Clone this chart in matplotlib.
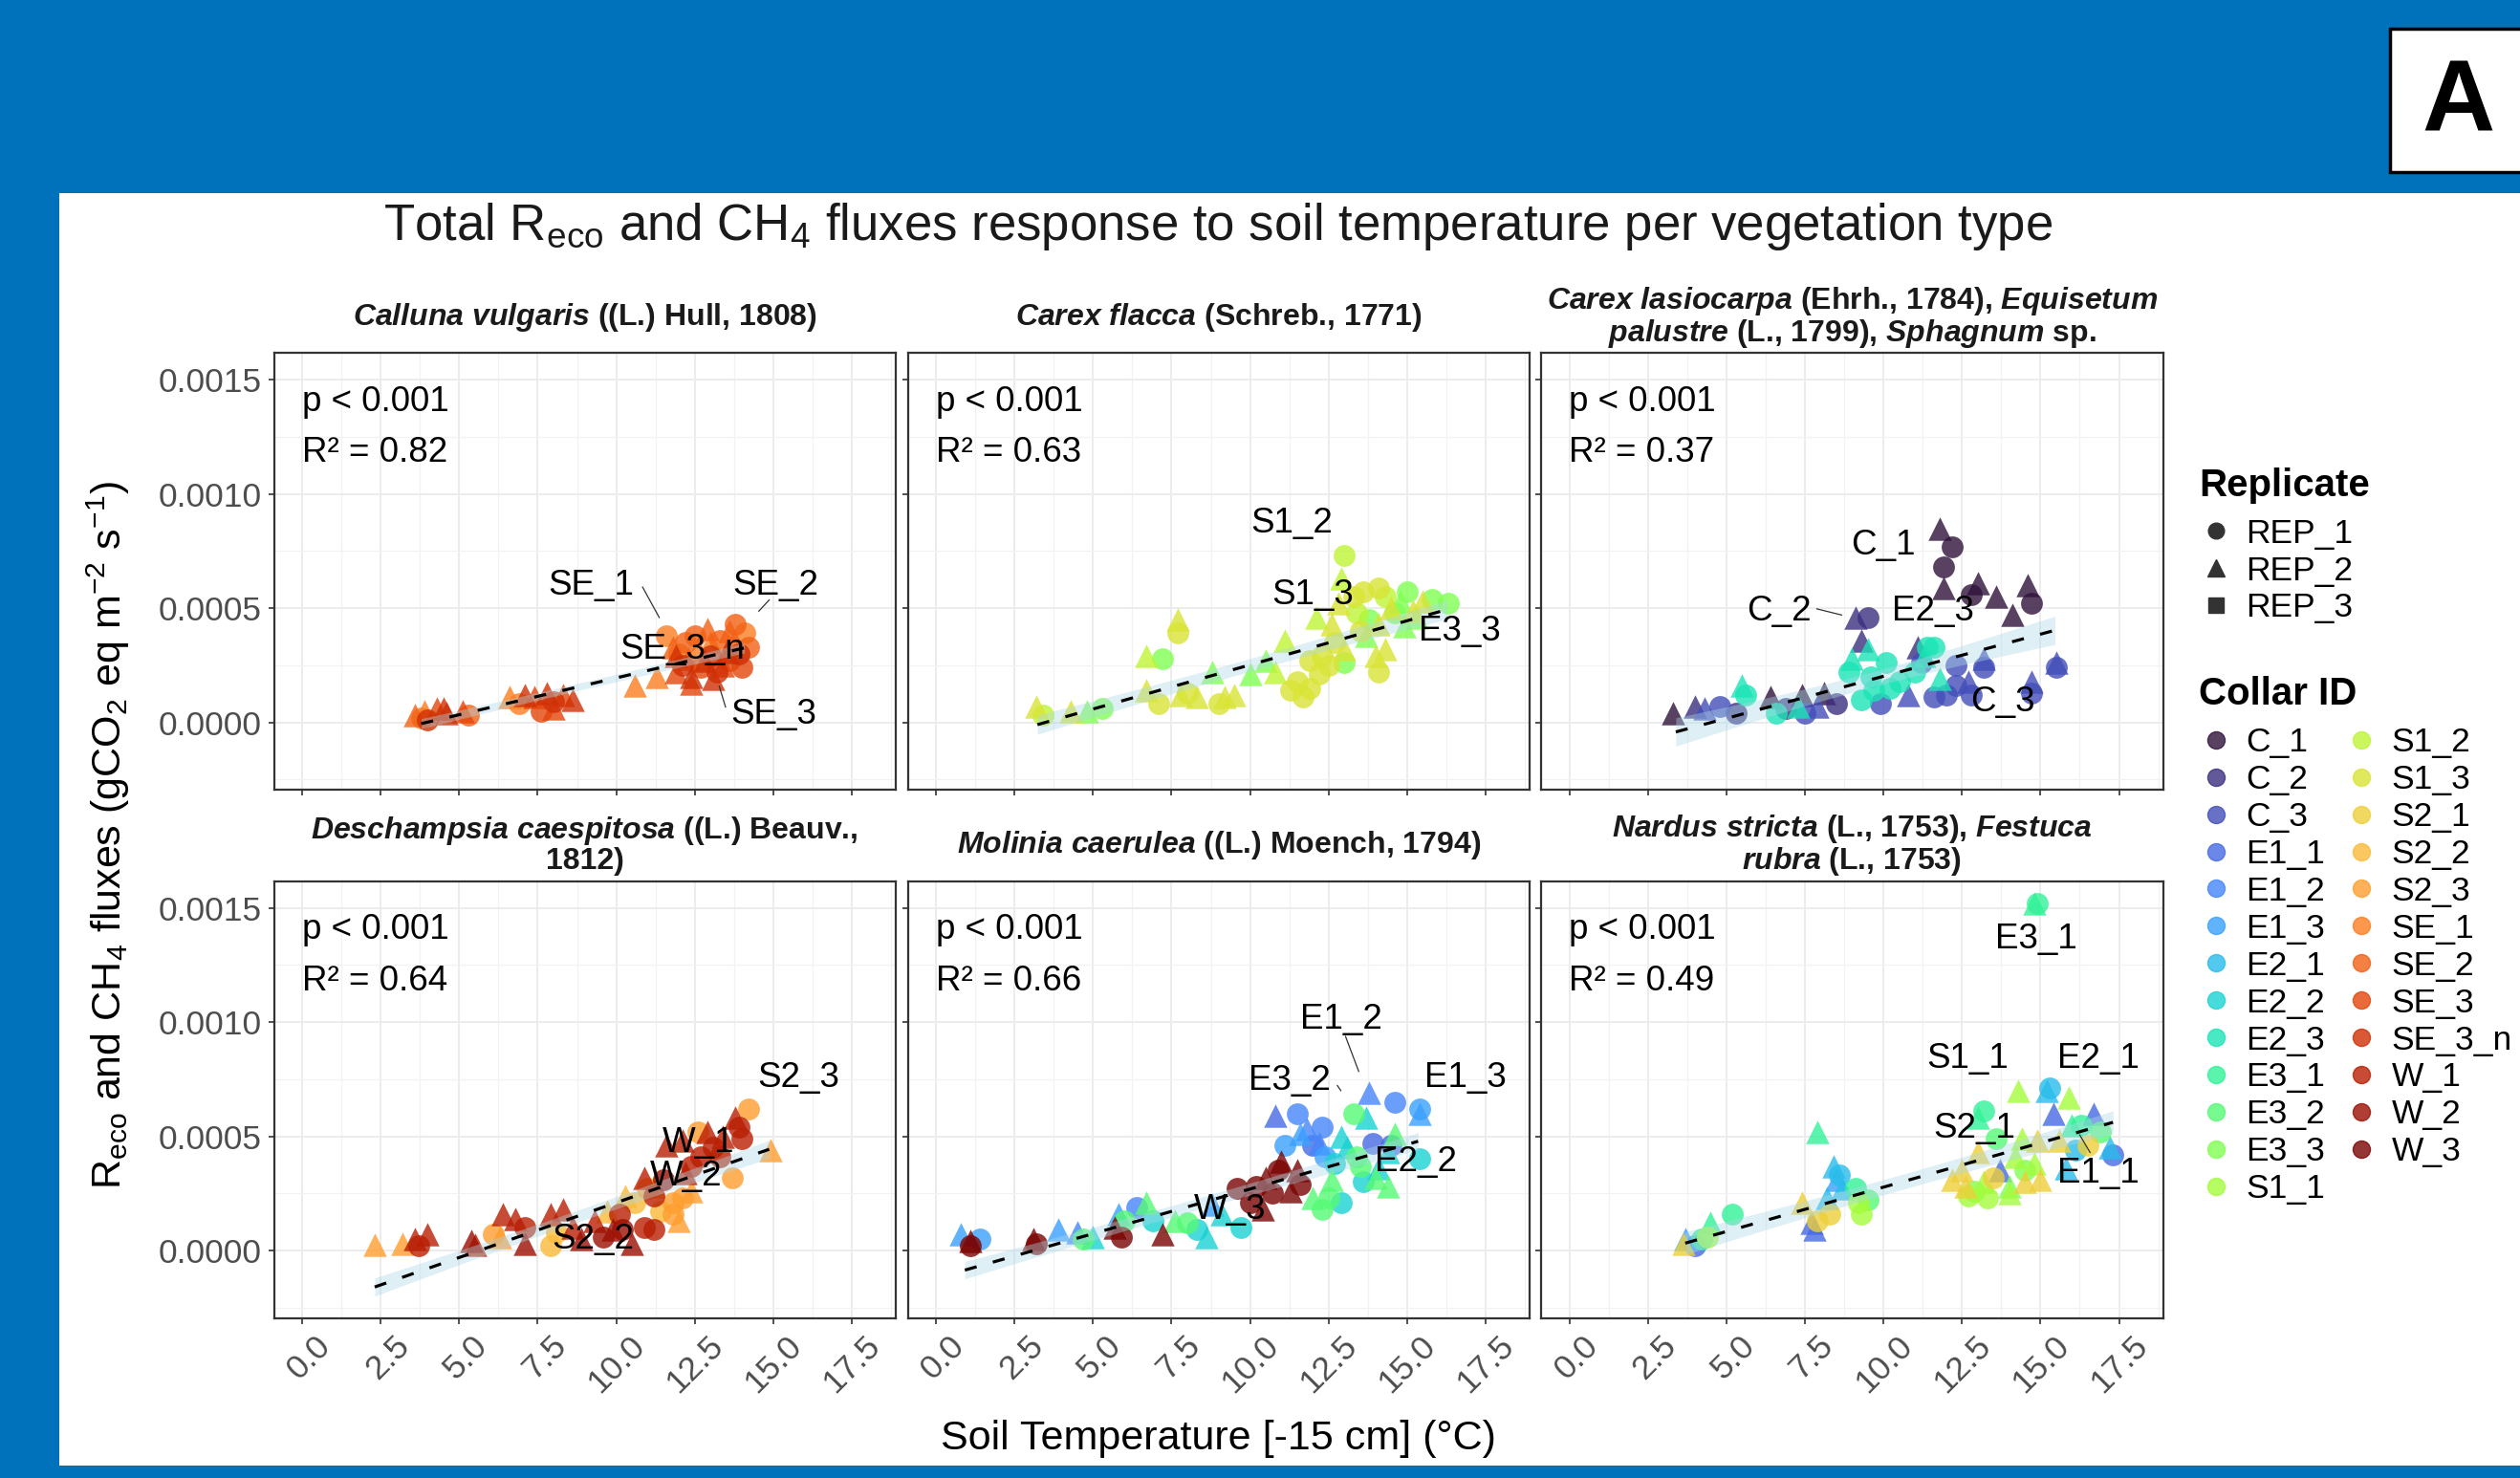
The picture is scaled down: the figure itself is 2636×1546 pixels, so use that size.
import numpy as np
import matplotlib
matplotlib.use("Agg")
import matplotlib.pyplot as plt
import matplotlib.transforms as mtransforms
from matplotlib.lines import Line2D
from matplotlib.patches import Rectangle

plt.rcParams['font.family'] = 'Liberation Sans'
plt.rcParams['mathtext.fontset'] = 'custom'
plt.rcParams['mathtext.rm'] = 'Liberation Sans'
plt.rcParams['mathtext.it'] = 'Liberation Sans:italic'
plt.rcParams['mathtext.bf'] = 'Liberation Sans:bold'
plt.rcParams['mathtext.bfit'] = 'Liberation Sans:italic:bold'
plt.rcParams['mathtext.default'] = 'regular'

W, H = 2636, 1546

collars = ['C_1', 'C_2', 'C_3', 'E1_1', 'E1_2', 'E1_3', 'E2_1', 'E2_2', 'E2_3',
           'E3_1', 'E3_2', 'E3_3', 'S1_1', 'S1_2', 'S1_3', 'S2_1', 'S2_2', 'S2_3',
           'SE_1', 'SE_2', 'SE_3', 'SE_3_n', 'W_1', 'W_2', 'W_3']
replicates = ['REP_1', 'REP_2', 'REP_3']
rep_marker = {1: 'o', 2: '^', 3: 's'}
rep_size = {1: 270, 2: 310, 3: 200}
cols = plt.cm.turbo(np.linspace(0, 1, len(collars)))
collar_color = dict(zip(collars, cols))

strip_titles = [
    r'$\mathbfit{Calluna\ vulgaris}$ ((L.) Hull, 1808)',
    r'$\mathbfit{Carex\ flacca}$ (Schreb., 1771)',
    r'$\mathbfit{Carex\ lasiocarpa}$ (Ehrh., 1784), $\mathbfit{Equisetum}$' + '\n' +
    r'$\mathbfit{palustre}$ (L., 1799), $\mathbfit{Sphagnum}$ sp.',
    r'$\mathbfit{Deschampsia\ caespitosa}$ ((L.) Beauv.,' + '\n' + '1812)',
    r'$\mathbfit{Molinia\ caerulea}$ ((L.) Moench, 1794)',
    r'$\mathbfit{Nardus\ stricta}$ (L., 1753), $\mathbfit{Festuca}$' + '\n' +
    r'$\mathbfit{rubra}$ (L., 1753)',
]
p_values = ['p < 0.001'] * 6
r2_values = ['0.82', '0.63', '0.37', '0.64', '0.66', '0.49']

# (collar, replicate, soil temperature, flux)
calluna = [
    ('SE_2', 2, 3.6, 0.00003), ('SE_1', 2, 3.9, 0.00005), ('SE_3', 2, 4.3, 0.00006),
    ('SE_3_n', 2, 4.6, 0.00004), ('SE_3', 2, 5.1, 0.00005), ('SE_2', 1, 5.3, 0.00003),
    ('SE_3_n', 1, 4.0, 0.00001), ('SE_1', 1, 3.8, 0.00002), ('SE_3_n', 2, 4.5, 0.00006),
    ('SE_1', 2, 6.6, 0.00011), ('SE_1', 1, 6.9, 0.00008), ('SE_3', 2, 7.4, 0.00011),
    ('SE_3_n', 2, 7.8, 0.00013), ('SE_3', 1, 7.6, 0.00005), ('SE_3_n', 1, 8.0, 0.00009),
    ('SE_3_n', 2, 8.6, 0.00010), ('SE_3', 2, 8.3, 0.00012), ('SE_3_n', 2, 7.1, 0.00012),
    ('SE_3', 2, 8.0, 0.00006), ('SE_1', 2, 10.6, 0.00016), ('SE_1', 2, 11.3, 0.00020),
    ('SE_1', 1, 11.6, 0.00038), ('SE_2', 2, 11.8, 0.00033), ('SE_3', 2, 11.9, 0.00022),
    ('SE_3_n', 1, 12.1, 0.00025), ('SE_2', 2, 12.3, 0.00028), ('SE_3_n', 2, 12.4, 0.00020),
    ('SE_1', 2, 12.6, 0.00032), ('SE_3', 1, 12.7, 0.00024), ('SE_2', 2, 12.9, 0.00041),
    ('SE_3_n', 1, 13.0, 0.00029), ('SE_3_n', 2, 13.1, 0.00019), ('SE_2', 1, 13.3, 0.00036),
    ('SE_3', 2, 13.4, 0.00025), ('SE_3_n', 2, 13.5, 0.00031), ('SE_2', 2, 13.6, 0.00040),
    ('SE_2', 1, 13.8, 0.00043), ('SE_3_n', 1, 13.9, 0.00030), ('SE_3', 1, 14.0, 0.00024),
    ('SE_1', 1, 14.1, 0.00039), ('SE_3_n', 1, 13.2, 0.00022), ('SE_1', 1, 12.0, 0.00030),
    ('SE_2', 1, 12.2, 0.00035), ('SE_3_n', 2, 12.8, 0.00027), ('SE_3', 1, 13.6, 0.00027),
    ('SE_1', 2, 13.0, 0.00035), ('SE_3_n', 2, 11.9, 0.00029), ('SE_2', 2, 13.7, 0.00034),
    ('SE_2', 1, 12.5, 0.00038), ('SE_2', 1, 14.2, 0.00033), ('SE_3', 2, 12.4, 0.00017),
]
carex_flacca = [
    ('S1_3', 2, 3.2, 0.00007), ('S1_2', 1, 3.4, 0.00003), ('S1_3', 2, 4.3, 0.00005),
    ('E3_3', 2, 4.8, 0.00005), ('E3_3', 1, 5.3, 0.00006), ('S1_2', 2, 6.7, 0.00029),
    ('E3_3', 1, 7.2, 0.00028), ('S1_3', 2, 7.7, 0.00045), ('S1_3', 1, 7.7, 0.00039),
    ('S1_3', 2, 6.7, 0.00014), ('S1_3', 1, 7.1, 0.00008), ('S1_3', 2, 7.8, 0.00012),
    ('S1_3', 2, 8.3, 0.00011), ('E3_3', 2, 8.8, 0.00022), ('S1_3', 2, 9.2, 0.00011),
    ('S1_3', 1, 9.0, 0.00008), ('E3_3', 2, 10.0, 0.00021), ('S1_2', 2, 11.1, 0.00036),
    ('S1_2', 2, 10.8, 0.00022), ('S1_3', 1, 11.5, 0.00018), ('S1_3', 1, 11.9, 0.00015),
    ('S1_3', 1, 11.3, 0.00014), ('S1_3', 1, 11.7, 0.00011), ('S1_3', 1, 12.3, 0.00029),
    ('S1_3', 1, 12.5, 0.00025), ('S1_3', 2, 13.0, 0.00032), ('E3_3', 1, 13.0, 0.00026),
    ('S1_3', 2, 12.6, 0.00043), ('S1_2', 2, 12.1, 0.00046), ('S1_2', 2, 12.9, 0.00063),
    ('S1_2', 1, 13.0, 0.00073), ('S1_3', 1, 13.6, 0.00057), ('S1_3', 1, 14.1, 0.00059),
    ('S1_3', 2, 14.1, 0.00043), ('S1_3', 1, 14.1, 0.00022), ('S1_3', 2, 14.0, 0.00029),
    ('E3_3', 2, 13.7, 0.00038), ('S1_3', 2, 14.5, 0.00050), ('E3_3', 1, 15.0, 0.00057),
    ('S1_3', 2, 15.5, 0.00053), ('E3_3', 1, 15.8, 0.00054), ('E3_3', 1, 16.3, 0.00052),
    ('E3_3', 2, 14.9, 0.00042), ('E3_3', 2, 15.3, 0.00046), ('E3_3', 1, 14.6, 0.00048),
    ('S1_2', 1, 13.4, 0.00048), ('S1_3', 2, 12.8, 0.00052), ('S1_3', 1, 13.3, 0.00055),
    ('E3_3', 1, 13.8, 0.00045), ('S1_2', 1, 14.3, 0.00055), ('E3_3', 2, 14.8, 0.00053),
    ('S1_3', 1, 13.5, 0.00040), ('S1_3', 1, 12.7, 0.00035), ('S1_3', 1, 12.2, 0.00021),
    ('S1_3', 1, 11.9, 0.00027), ('S1_3', 2, 14.3, 0.00032), ('S1_3', 2, 15.2, 0.00049),
    ('E3_3', 2, 10.5, 0.00027), ('S1_3', 1, 8.0, 0.00013), ('S1_3', 2, 9.5, 0.00012),
]
carex_lasiocarpa = [
    ('C_1', 2, 3.3, 0.00004), ('C_2', 2, 4.0, 0.00007), ('C_3', 2, 4.3, 0.00006),
    ('C_2', 1, 5.3, 0.00004), ('E2_3', 2, 5.5, 0.00016), ('E2_3', 1, 5.6, 0.00012),
    ('C_1', 2, 6.4, 0.00011), ('E2_3', 1, 6.6, 0.00004), ('E2_3', 2, 7.3, 0.00007),
    ('C_1', 2, 7.4, 0.00012), ('C_3', 2, 7.9, 0.00007), ('C_1', 2, 8.1, 0.00013),
    ('C_3', 1, 7.5, 0.00004), ('C_2', 2, 9.1, 0.00046), ('C_2', 1, 9.5, 0.00046),
    ('C_2', 2, 9.3, 0.00036), ('E2_3', 2, 9.5, 0.00032), ('E2_3', 1, 8.9, 0.00022),
    ('E2_3', 1, 9.3, 0.00010), ('E2_3', 1, 9.7, 0.00014), ('E2_3', 1, 10.1, 0.00026),
    ('E2_3', 1, 10.2, 0.00015), ('C_3', 1, 9.9, 0.00008), ('C_2', 2, 11.1, 0.00033),
    ('E2_3', 1, 11.4, 0.00033), ('E2_3', 1, 11.6, 0.00033), ('E2_3', 1, 11.0, 0.00022),
    ('C_3', 1, 11.2, 0.00026), ('C_3', 2, 10.8, 0.00012), ('C_3', 1, 11.6, 0.00011),
    ('E2_3', 2, 11.8, 0.00019), ('C_3', 1, 12.0, 0.00012), ('C_1', 2, 11.8, 0.00085),
    ('C_1', 1, 12.2, 0.00077), ('C_1', 1, 11.9, 0.00068), ('C_1', 2, 11.9, 0.00059),
    ('C_1', 2, 13.0, 0.00061), ('C_1', 1, 12.8, 0.00056), ('C_1', 2, 14.1, 0.00047),
    ('C_1', 2, 14.6, 0.00060), ('C_1', 1, 14.7, 0.00052), ('C_3', 1, 12.3, 0.00025),
    ('C_3', 2, 12.7, 0.00018), ('C_3', 1, 13.2, 0.00024), ('C_3', 2, 13.2, 0.00028),
    ('C_3', 2, 14.7, 0.00018), ('C_3', 1, 14.7, 0.00013), ('C_3', 2, 15.5, 0.00026),
    ('C_3', 1, 15.5, 0.00024), ('E2_3', 2, 9.0, 0.00028), ('E2_3', 1, 10.5, 0.00018),
    ('C_3', 1, 12.3, 0.00016), ('C_3', 1, 12.8, 0.00012), ('E2_3', 1, 9.6, 0.00020),
    ('E2_3', 2, 11.3, 0.00029), ('C_2', 1, 6.9, 0.00006), ('C_2', 1, 8.5, 0.00008),
    ('C_3', 1, 4.8, 0.00007), ('C_1', 2, 13.6, 0.00055),
]
deschampsia = [
    ('S2_3', 2, 2.3, 0.000025), ('S2_3', 2, 3.2, 0.00003), ('W_1', 2, 3.6, 0.00005),
    ('W_1', 2, 4.0, 0.00007), ('W_1', 1, 3.7, 0.00002), ('W_2', 2, 5.4, 0.00004),
    ('W_1', 2, 5.5, 0.000025), ('S2_3', 1, 6.1, 0.00007), ('W_1', 2, 6.4, 0.00016),
    ('W_1', 2, 6.8, 0.00014), ('W_2', 2, 7.1, 0.00003), ('W_1', 1, 7.1, 0.00010),
    ('W_1', 2, 7.9, 0.00016), ('W_1', 2, 8.3, 0.00018), ('S2_2', 1, 7.9, 0.00002),
    ('S2_2', 1, 8.1, 0.00008), ('W_2', 2, 8.9, 0.00005), ('W_1', 2, 9.3, 0.00013),
    ('W_2', 1, 9.6, 0.00006), ('S2_2', 2, 9.7, 0.00017), ('W_1', 1, 10.1, 0.00016),
    ('W_2', 1, 10.2, 0.00009), ('W_2', 2, 10.5, 0.00003), ('W_1', 1, 10.9, 0.00010),
    ('W_1', 1, 11.2, 0.00009), ('S2_2', 2, 10.3, 0.00024), ('W_1', 2, 10.9, 0.00032),
    ('W_1', 1, 11.2, 0.00024), ('S2_2', 1, 11.4, 0.00017), ('S2_3', 1, 11.8, 0.00021),
    ('S2_3', 1, 12.1, 0.00023), ('S2_3', 2, 12.0, 0.00013), ('W_1', 2, 11.6, 0.00046),
    ('W_1', 2, 12.1, 0.00048), ('S2_3', 1, 12.6, 0.00052), ('W_1', 1, 12.7, 0.00041),
    ('W_1', 1, 13.1, 0.00045), ('W_1', 2, 13.4, 0.00050), ('W_1', 2, 13.8, 0.00058),
    ('W_1', 1, 14.0, 0.00049), ('S2_3', 1, 14.2, 0.00062), ('S2_3', 1, 13.7, 0.00032),
    ('S2_3', 2, 14.9, 0.00044), ('W_1', 2, 12.2, 0.00034), ('S2_3', 1, 11.0, 0.00027),
    ('W_1', 1, 12.4, 0.00037), ('W_1', 1, 13.3, 0.00041), ('W_1', 2, 12.9, 0.00052),
    ('S2_2', 1, 10.6, 0.00021), ('W_2', 1, 11.5, 0.00031), ('W_2', 2, 9.9, 0.00009),
    ('S2_3', 1, 11.8, 0.00016), ('W_1', 1, 13.9, 0.00054), ('S2_3', 2, 6.3, 0.00006),
    ('W_1', 2, 8.6, 0.00010), ('S2_2', 2, 11.2, 0.00028), ('S2_3', 2, 12.4, 0.00026),
]
molinia = [
    ('E1_3', 2, 0.8, 0.00007), ('W_3', 2, 1.1, 0.00004), ('E1_3', 1, 1.4, 0.00005),
    ('W_3', 1, 1.1, 0.00002), ('W_3', 2, 3.1, 0.00005), ('W_3', 1, 3.2, 0.00003),
    ('E1_3', 2, 3.9, 0.00009), ('E1_2', 2, 4.5, 0.00008), ('E3_2', 1, 4.7, 0.00005),
    ('E2_2', 2, 5.0, 0.00006), ('W_3', 2, 5.7, 0.00010), ('W_3', 1, 5.9, 0.00006),
    ('E1_3', 2, 5.8, 0.00016), ('E1_2', 1, 6.4, 0.00019), ('E3_2', 2, 6.7, 0.00021),
    ('E2_2', 1, 6.9, 0.00013), ('W_3', 2, 7.2, 0.00007), ('E3_2', 2, 7.6, 0.00013),
    ('E3_2', 1, 8.0, 0.00012), ('E2_2', 2, 8.6, 0.00006), ('E1_3', 2, 8.8, 0.00020),
    ('E2_2', 2, 9.1, 0.00016), ('W_3', 1, 9.6, 0.00027), ('E2_2', 1, 9.7, 0.00010),
    ('W_3', 1, 10.0, 0.00021), ('W_3', 2, 10.4, 0.00018), ('W_3', 2, 10.5, 0.00032),
    ('W_3', 1, 10.9, 0.00035), ('W_3', 1, 10.7, 0.00025), ('W_3', 2, 11.5, 0.00035),
    ('W_3', 1, 11.6, 0.00029), ('W_3', 2, 11.3, 0.00026), ('E1_1', 2, 10.8, 0.00059),
    ('E1_2', 1, 11.5, 0.00060), ('E1_3', 1, 11.1, 0.00046), ('E1_2', 2, 11.8, 0.00053),
    ('E1_2', 1, 12.3, 0.00054), ('E1_1', 1, 12.0, 0.00046), ('E1_3', 1, 12.4, 0.00041),
    ('E3_2', 2, 12.0, 0.00023), ('E3_2', 1, 12.5, 0.00023), ('E2_2', 2, 12.9, 0.00050),
    ('E3_2', 1, 13.3, 0.00060), ('E2_2', 2, 13.7, 0.00058), ('E1_2', 2, 13.8, 0.00069),
    ('E1_2', 1, 14.6, 0.00065), ('E1_3', 1, 15.4, 0.00062), ('E1_3', 2, 15.4, 0.00060),
    ('E3_2', 2, 14.6, 0.00051), ('E3_2', 1, 13.4, 0.00041), ('E2_2', 1, 13.6, 0.00030),
    ('E3_2', 2, 14.0, 0.00032), ('E3_2', 2, 14.4, 0.00028), ('E2_2', 1, 12.9, 0.00021),
    ('E2_2', 2, 14.4, 0.00043), ('E2_2', 1, 15.4, 0.00040), ('E3_2', 2, 12.6, 0.00031),
    ('E1_1', 1, 14.5, 0.00046), ('E1_2', 2, 12.2, 0.00047), ('E1_3', 2, 11.6, 0.00051),
    ('E2_2', 2, 13.1, 0.00045), ('E3_2', 1, 13.5, 0.00037), ('E2_2', 1, 12.7, 0.00038),
    ('E2_2', 2, 14.1, 0.00036), ('W_3', 2, 11.0, 0.00039), ('W_3', 1, 10.2, 0.00028),
    ('E3_2', 1, 12.3, 0.00018), ('E2_2', 1, 8.3, 0.00009), ('E3_2', 1, 6.0, 0.00013),
    ('E1_1', 1, 13.9, 0.00047),
]
nardus = [
    ('E1_3', 2, 3.7, 0.00005), ('S2_1', 2, 3.65, 0.00003), ('E1_1', 1, 4.0, 0.00002),
    ('S1_1', 1, 4.4, 0.00006), ('E3_1', 2, 4.5, 0.00012), ('E3_1', 1, 5.2, 0.00016),
    ('E3_1', 2, 7.9, 0.00052), ('S2_1', 2, 7.4, 0.00021), ('S2_1', 1, 7.9, 0.00013),
    ('E1_1', 2, 7.8, 0.00009), ('E2_1', 2, 8.4, 0.00037), ('E1_3', 2, 8.5, 0.00031),
    ('E2_1', 2, 8.7, 0.00027), ('S2_1', 1, 8.3, 0.00016), ('E2_1', 2, 8.2, 0.00023),
    ('E3_1', 1, 9.1, 0.00027), ('S1_1', 1, 9.3, 0.00016), ('E3_2', 1, 9.5, 0.00022),
    ('S2_1', 2, 12.2, 0.00031), ('S2_1', 2, 12.6, 0.00028), ('S1_1', 1, 12.7, 0.00024),
    ('S1_1', 2, 13.2, 0.00030), ('S1_1', 1, 13.3, 0.00023), ('E3_1', 1, 13.2, 0.00061),
    ('E3_1', 2, 13.0, 0.00058), ('S2_1', 2, 13.0, 0.00043), ('E3_2', 1, 13.6, 0.00049),
    ('E3_3', 2, 14.0, 0.00028), ('E1_1', 2, 13.7, 0.00035), ('S1_1', 2, 14.3, 0.00070),
    ('S1_1', 2, 14.4, 0.00049), ('S2_1', 2, 14.5, 0.00030), ('S2_1', 2, 14.9, 0.00048),
    ('S1_1', 2, 14.8, 0.00038), ('E2_1', 2, 15.2, 0.00070), ('E2_1', 1, 15.3, 0.00071),
    ('E1_1', 2, 15.4, 0.00060), ('S1_1', 2, 15.9, 0.00067), ('E3_1', 2, 16.0, 0.00055),
    ('S2_1', 1, 16.5, 0.00046), ('E1_1', 2, 16.7, 0.00060), ('E3_2', 1, 16.9, 0.00052),
    ('E2_1', 2, 17.2, 0.00045), ('E1_1', 1, 17.3, 0.00042), ('E2_1', 1, 16.1, 0.00044),
    ('E3_1', 2, 14.8, 0.00152), ('E3_1', 1, 14.9, 0.00152), ('S2_1', 2, 15.0, 0.00031),
    ('E3_3', 1, 14.5, 0.00035), ('S2_1', 2, 12.5, 0.00035), ('S2_1', 1, 13.5, 0.00032),
    ('S1_1', 2, 14.2, 0.00041), ('S2_1', 2, 15.6, 0.00048), ('E3_1', 1, 16.3, 0.00055),
    ('S1_1', 2, 14.0, 0.00025), ('E2_1', 1, 8.6, 0.00033), ('S1_1', 1, 9.2, 0.00021),
    ('E1_1', 2, 7.7, 0.00012), ('E3_1', 1, 4.2, 0.00005), ('E3_3', 1, 12.9, 0.00026),
    ('E2_1', 2, 15.8, 0.00036),
]
panels = [calluna, carex_flacca, carex_lasiocarpa, deschampsia, molinia, nardus]

# linear fit drawn by the original (start T, start flux, end T, end flux)
fit_lines = [
    (3.79, -0.0000056, 14.08, 0.000326),
    (3.23, -0.00001, 16.27, 0.000494),
    (3.39, -0.000042, 15.46, 0.000403),
    (2.31, -0.00016, 14.87, 0.000443),
    (0.92, -0.000086, 15.35, 0.000478),
    (3.69, 0.000032, 17.31, 0.000561),
]
# confidence band half width (at the ends, at the centre)
band_halfwidth = [
    (0.000022, 0.000016),
    (0.000042, 0.000028),
    (0.000062, 0.000033),
    (0.000040, 0.000026),
    (0.000038, 0.000025),
    (0.000050, 0.000033),
]

# repelled text labels: (text, temperature, flux)
point_labels = [
    [('SE_1', 9.2, 0.00060), ('SE_2', 15.07, 0.00060), ('SE_3_n', 12.1, 0.00032), ('SE_3', 15.0, 0.000032)],
    [('S1_2', 11.33, 0.000872), ('S1_3', 11.99, 0.000557), ('E3_3', 16.67, 0.000396)],
    [('C_1', 9.99, 0.000774), ('C_2', 6.69, 0.000487), ('E2_3', 11.57, 0.000487), ('C_3', 13.81, 0.000088)],
    [('S2_3', 15.79, 0.000756), ('W_1', 12.63, 0.000471), ('W_2', 12.23, 0.000325), ('S2_2', 9.26, 0.000046)],
    [('E1_2', 12.91, 0.00101), ('E3_2', 11.26, 0.000742), ('E1_3', 16.86, 0.000756), ('E2_2', 15.28, 0.000387), ('W_3', 9.35, 0.000178)],
    [('E3_1', 14.87, 0.001362), ('S1_1', 12.69, 0.00084), ('E2_1', 16.85, 0.00084), ('S2_1', 12.89, 0.000534), ('E1_1', 16.85, 0.000338)],
]
# leader segments: (t0, f0, t1, f1)
leaders = [
    [(10.84, 0.000592, 11.37, 0.000459), (14.87, 0.000536, 14.54, 0.000487), (13.28, 0.000158, 13.48, 0.000067)],
    [],
    [(7.88, 0.000497, 8.67, 0.00047)],
    [],
    [(13.04, 0.000937, 13.46, 0.000784), (12.78, 0.000722, 12.89, 0.0007)],
    [(16.25, 0.000506, 16.58, 0.000429)],
]

x_ticks = [0.0, 2.5, 5.0, 7.5, 10.0, 12.5, 15.0, 17.5]
y_ticks = [0.0, 0.0005, 0.0010, 0.0015]

fig = plt.figure(figsize=(W / 100, H / 100), dpi=100, facecolor='#0072BC')
fig.patches.append(Rectangle((62 / W, 1 - 1533 / H), 1, (1533 - 202) / H,
                             transform=fig.transFigure, facecolor='white', edgecolor='none', zorder=-2))
fig.patches.append(Rectangle((2500 / W, 1 - 180 / H), 200 / W, 150 / H,
                             transform=fig.transFigure, facecolor='white', edgecolor='black', lw=2.5, zorder=-1))
fig.text(2572 / W, 1 - 110 / H, 'A', fontsize=76, fontweight='bold', ha='center', va='center')

fig.text(1274 / W, 1 - 237 / H,
         r'Total R$_{eco}$ and CH$_4$ fluxes response to soil temperature per vegetation type',
         fontsize=38, ha='center', va='center', color='#1A1A1A')

lefts = [286.5, 949.5, 1612]
tops = [369.3, 921.7]
pw, ph = 650.5, 457.0
xoff = mtransforms.ScaledTranslation(0.13, 0, fig.dpi_scale_trans)

for i, pts in enumerate(panels):
    r, c = divmod(i, 3)
    ax = fig.add_axes([lefts[c] / W, 1 - (tops[r] + ph) / H, pw / W, ph / H])
    ax.set_xlim(-0.9, 18.9)
    ax.set_ylim(-0.000296, 0.001617)
    ax.set_xticks(x_ticks)
    ax.set_yticks(y_ticks)
    ax.set_xticks([t + 1.25 for t in x_ticks], minor=True)
    ax.set_yticks([-0.00025, 0.00025, 0.00075, 0.00125], minor=True)
    ax.grid(True, which='major', color='#EBEBEB', lw=1.3, zorder=0)
    ax.grid(True, which='minor', color='#F2F2F2', lw=0.9, zorder=0)
    ax.set_axisbelow(True)
    ax.tick_params(which='minor', length=0)
    ax.tick_params(which='major', length=4, width=1.2, color='#333333',
                   labelsize=25.5, labelcolor='#4D4D4D', pad=5)
    for sp in ax.spines.values():
        sp.set_color('#333333')
        sp.set_linewidth(1.6)
        sp.set_zorder(8)
    if r == 1:
        ax.set_xticklabels(['%.1f' % t for t in x_ticks], rotation=45, ha='right',
                           rotation_mode='anchor')
        for lab in ax.get_xticklabels():
            lab.set_transform(lab.get_transform() + xoff)
    else:
        ax.set_xticklabels([])
    if c == 0:
        ax.set_yticklabels(['%.4f' % v for v in y_ticks])
    else:
        ax.set_yticklabels([])

    for coll in collars:
        for rep in (1, 2, 3):
            sel = [(p[2], p[3]) for p in pts if p[0] == coll and p[1] == rep]
            if not sel:
                continue
            xs, ys = zip(*sel)
            ax.scatter(xs, ys, s=rep_size[rep], marker=rep_marker[rep],
                       color=collar_color[coll], alpha=0.8, linewidths=0, zorder=3)

    t0, f0, t1, f1 = fit_lines[i]
    hw_end, hw_mid = band_halfwidth[i]
    xs = np.linspace(t0, t1, 100)
    yhat = f0 + (f1 - f0) * (xs - t0) / (t1 - t0)
    u = (xs - (t0 + t1) / 2) / ((t1 - t0) / 2)
    hw = np.sqrt(hw_mid ** 2 + (hw_end ** 2 - hw_mid ** 2) * u ** 2)
    ax.fill_between(xs, yhat - hw, yhat + hw, color='#ADD8E6', alpha=0.4, lw=0, zorder=4)
    ax.plot(xs, yhat, color='black', lw=2.3, ls=(0, (4, 5.5)), zorder=5)

    for a0, b0, a1, b1 in leaders[i]:
        ax.plot([a0, a1], [b0, b1], color='#333333', lw=0.9, zorder=6)
    for txt, tx, fy in point_labels[i]:
        ax.text(tx, fy, txt, fontsize=26.5, ha='center', va='center', color='black', zorder=7)

    ax.text(0.045, 0.889, p_values[i], transform=ax.transAxes, fontsize=26.5, va='center')
    ax.text(0.045, 0.771, 'R\u00b2 = ' + r2_values[i], transform=ax.transAxes, fontsize=26.5, va='center')
    ax.text(0.5, 1 + 37.5 / ph, strip_titles[i], transform=ax.transAxes, ha='center', va='center',
            fontsize=23, fontweight='bold', linespacing=1.0, color='#1A1A1A')

fig.text(1274 / W, 1 - 1505 / H, 'Soil Temperature [-15 cm] (\u00b0C)', fontsize=31,
         ha='center', va='center')
fig.text(113 / W, 1 - 874 / H,
         r'R$_{eco}$ and CH$_4$ fluxes (gCO$_2$ eq m$^{-2}$ s$^{-1}$)',
         fontsize=31, rotation=90, ha='center', va='center')

# legends
fig.text(2300 / W, 1 - 508 / H, 'Replicate', fontsize=29, fontweight='bold', ha='left', va='center')
fig.text(2300 / W, 1 - 726 / H, 'Collar ID', fontsize=29, fontweight='bold', ha='left', va='center')
rep_handles = [Line2D([], [], ls='', marker=m, color='#333333', markersize=ms)
               for m, ms in (('o', 12), ('^', 13), ('s', 11))]
fig.legend(rep_handles, replicates, loc='upper left',
           bbox_to_anchor=(2300 / W, 1 - 541.6 / H), frameon=False, fontsize=25.5,
           labelspacing=0.167, handlelength=1.0, handletextpad=0.4,
           borderpad=0, borderaxespad=0)
col_handles = [Line2D([], [], ls='', marker='o', color=collar_color[cname], alpha=0.8,
                      markersize=13) for cname in collars]
fig.legend(col_handles, collars, loc='upper left', ncol=2,
           bbox_to_anchor=(2300 / W, 1 - 760.2 / H), frameon=False, fontsize=25.5,
           labelspacing=0.167, handlelength=1.0, handletextpad=0.4,
           columnspacing=0.55, borderpad=0, borderaxespad=0)

fig.savefig('out.png', dpi=100, facecolor=fig.get_facecolor())
